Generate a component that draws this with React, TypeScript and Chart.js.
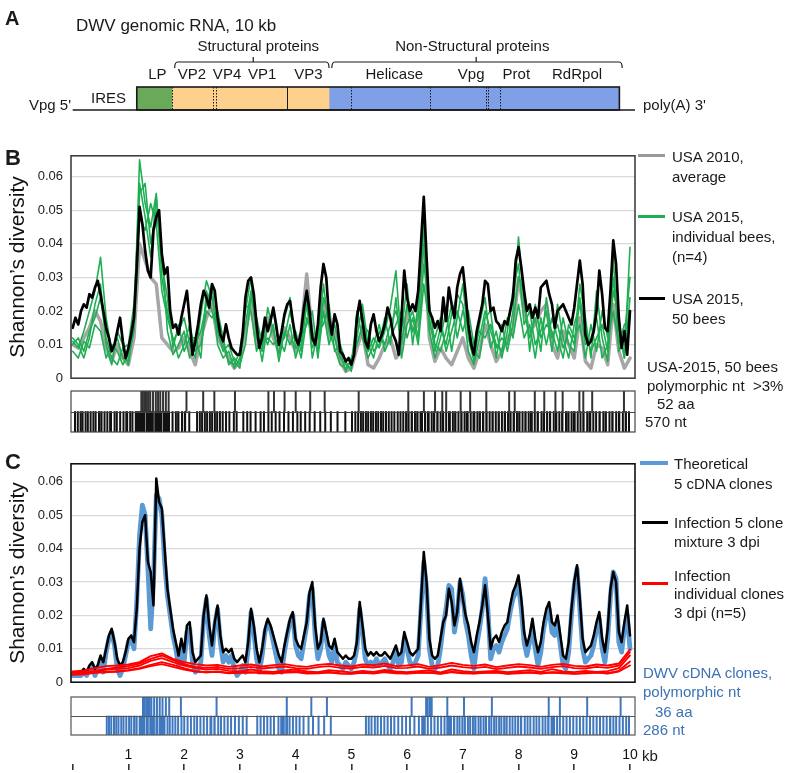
import React, { useEffect, useRef } from 'react';
import { Chart, registerables } from 'chart.js';
Chart.register(...registerables);

// ---------------- data ----------------
// genome position axis (kb)
const KB_MIN = -0.03;
const KB_MAX = 10.09;
const KB_TICK_STEP = 1;

// Panel A: genome organisation (kb)
const SEG_NAMES = ['LP', 'Structural', 'Non-Structural'];
const SEG_START = [1.15, 1.78, 4.6];
const SEG_END = [1.78, 4.6, 9.81];
const DIVIDER_KB = [1.78, 2.51, 2.58, 3.85, 4.99, 6.41, 7.42, 7.46, 7.66];
const DIVIDER_DOTTED = [true, true, true, false, true, true, true, true, true];
const GENE_NAMES = ['LP', 'VP2', 'VP4', 'VP1', 'VP3', 'Helicase', 'Vpg', 'Prot', 'RdRpol'];
const GENE_LABEL_KB = [1.52, 2.14, 2.77, 3.40, 4.23, 5.77, 7.15, 7.96, 9.05];
const BRACKET_NAMES = ['Structural proteins', 'Non-Structural proteins'];
const BRACKET_START = [1.83, 4.65];
const BRACKET_END = [4.6, 9.86];
const BRACKET_MID = [3.24, 7.24];
const BRACKET_LABEL_KB = [3.33, 7.17];

// Shannon's diversity, units of 1e-3
const STEP_FINE = 0.05;
const STEP_MID = 0.1;
const STEP_COARSE = 0.2;

const USA2015_50BEES = [
  15,18,16,20,22,21,25,24,27,29,25,20,15,12,8,10,14,18,11,6,
  9,13,18,33,51,46,38,32,30,44,48,50,37,31,33,20,15,16,13,18,
  22,26,17,7,11,16,22,26,24,21,28,26,18,13,11,16,12,9,8,7,
  7,13,24,29,30,25,16,9,12,18,14,17,21,16,10,14,19,22,23,17,
  12,10,14,21,26,20,12,10,16,27,34,30,18,13,19,16,8,7,5,6,
  4,7,18,23,17,11,9,16,19,14,11,13,16,21,18,13,11,7,18,32,
  24,20,22,20,26,40,54,36,20,18,15,17,14,24,17,27,22,18,27,31,
  33,25,16,10,7,14,18,22,29,28,20,21,17,16,14,17,16,20,24,35,
  39,33,26,20,22,18,21,18,27,28,29,25,22,15,20,21,22,20,18,16,
  21,28,35,28,13,10,11,14,20,32,25,15,14,26,41,34,18,9,14,7,
  20,
];
const USA2010_AVG = [
  10,9,12,15,20,17,9,5,10,6,
  4,12,40,35,30,28,12,10,8,9,
  12,8,4,12,18,22,12,9,6,3,
  5,14,22,10,9,18,12,8,15,12,
  8,14,31,12,10,22,12,14,5,2,
  3,9,14,4,3,6,10,12,6,8,
  20,14,16,44,12,5,9,6,4,8,
  12,6,3,8,16,10,5,8,12,14,
  30,20,14,16,20,22,10,6,14,10,
  6,18,5,3,10,9,4,22,8,3,
  6,
];
const USA2015_BEE1 = [
  11,9,14,20,26,36,18,8,12,6,
  5,15,65,52,45,55,30,20,11,14,
  18,10,6,19,29,24,15,10,5,4,
  8,20,30,12,8,21,14,7,18,24,
  9,10,22,9,12,28,14,9,4,3,
  5,16,19,8,12,9,14,21,32,10,
  22,14,18,46,18,8,15,10,19,25,
  22,8,4,12,20,14,9,12,10,20,
  42,22,12,18,8,24,12,16,9,14,
  10,28,18,6,26,12,5,30,14,6,
  39,
];
const USA2015_BEE2 = [
  10,12,8,14,18,24,12,6,4,9,
  10,22,55,58,40,50,38,14,7,10,
  14,6,10,14,22,28,10,6,8,3,
  6,16,26,14,5,16,20,10,12,20,
  12,6,18,14,8,24,18,12,6,4,
  3,12,22,10,6,14,10,16,20,14,
  28,10,22,40,14,6,12,20,8,18,
  28,12,5,16,24,9,14,6,14,26,
  34,16,20,10,14,20,8,22,12,6,
  16,22,10,12,18,6,10,36,8,12,
  30,
];
const USA2015_BEE3 = [
  8,6,11,9,16,14,6,10,8,4,
  7,14,48,44,52,46,26,18,12,6,
  10,16,8,10,20,18,20,12,4,6,
  4,10,24,18,10,12,10,12,8,16,
  6,12,16,20,6,20,10,16,8,2,
  6,10,16,14,8,10,18,10,24,6,
  16,20,12,34,22,10,8,14,22,12,
  20,16,8,6,18,20,6,16,8,16,
  30,26,8,22,12,16,14,8,18,10,
  8,24,14,8,12,16,8,26,18,6,
  24,
];
const USA2015_BEE4 = [
  12,10,6,12,22,28,10,4,14,10,
  4,18,58,48,36,54,34,24,9,16,
  8,12,12,6,26,20,14,8,10,5,
  3,22,20,8,14,10,16,5,14,10,
  14,8,24,6,14,16,22,8,10,5,
  2,20,12,6,10,16,8,12,16,20,
  12,18,10,28,16,12,18,8,14,20,
  14,20,10,14,12,16,10,8,18,12,
  22,12,16,6,18,10,18,12,6,16,
  12,16,6,16,8,20,12,20,10,16,
  18,
];

const THEORETICAL_5CLONES = [
  2,2,2,2,3,2,4,5,2,4,7,3,9,13,15,11,4,2,4,8,
  12,13,10,24,44,53,50,34,16,30,56,55,50,36,26,20,14,10,5,11,
  6,15,16,6,3,4,6,19,25,14,8,17,22,12,6,8,6,8,4,2,
  3,5,3,10,21,15,7,3,8,15,18,16,12,8,4,3,9,14,18,20,
  11,8,7,12,17,26,28,14,7,10,18,13,8,6,11,6,5,4,6,5,
  4,6,10,22,15,7,5,6,5,7,5,6,7,5,4,6,9,5,6,13,
  10,6,5,6,8,22,36,28,10,5,4,5,10,17,22,29,28,15,20,30,
  26,18,14,8,4,11,16,22,31,22,7,10,11,9,12,14,16,21,25,27,
  29,22,12,8,12,16,10,5,9,16,20,22,15,14,18,11,5,4,9,20,
  29,34,22,10,6,7,8,11,16,19,10,6,13,26,33,31,12,9,16,20,
  10,
];
const INFECTION_MIXTURE = [
  3,3,3,3,4,3,5,6,4,5,8,6,10,14,16,12,7,5,6,9,
  13,14,12,22,40,48,50,36,33,23,61,54,52,40,28,22,16,12,8,13,
  9,17,18,9,6,7,8,20,26,17,11,18,23,14,9,10,9,10,7,6,
  7,8,6,12,22,17,10,6,10,16,19,17,14,11,8,6,11,15,19,21,
  13,11,10,14,18,27,30,17,10,12,19,15,11,10,13,9,8,7,8,7,
  7,8,12,24,17,10,8,9,8,9,8,8,9,8,7,9,11,8,9,15,
  12,9,8,9,10,24,39,30,13,8,7,8,13,18,20,28,24,17,21,31,
  25,20,17,12,9,14,18,23,29,20,10,13,14,12,15,17,18,23,27,29,
  32,25,15,11,14,19,13,9,12,18,22,24,18,17,20,14,8,7,12,22,
  30,35,25,13,9,10,11,14,18,21,13,9,16,28,33,30,15,12,18,23,
  14,
];
const CLONE1 = [3.2,3.5,4.2,4.8,5.0,5.3,6.0,7.8,8.6,7.0,6.0,5.4,5.0,5.2,4.6,5.0,5.3,4.7,5.1,5.4,4.9,4.6,5.2,5.5,5.0,4.7,5.3,5.1,5.6,4.8,5.0,5.4,4.6,5.1,5.8,5.2,4.9,5.3,4.5,5.0,5.4,5.1,4.6,5.2,5.5,4.9,4.7,5.3,5.0,5.6,9.8];
const CLONE2 = [2.8,3.0,3.3,3.8,4.0,4.2,5.0,6.4,7.2,6.0,5.0,4.2,3.8,4.0,3.4,3.2,3.8,3.3,3.1,3.5,3.8,3.2,3.0,3.6,3.3,2.9,3.4,3.1,3.7,3.2,3.0,3.3,3.5,2.9,3.8,3.3,3.0,3.2,3.4,3.0,3.3,3.6,3.1,3.9,3.2,3.0,3.4,3.1,3.3,4.2,8.0];
const CLONE3 = [2.4,2.6,3.0,3.2,3.1,3.6,4.2,5.2,6.0,5.2,4.2,3.3,3.0,3.2,2.8,3.0,2.9,3.1,2.7,3.0,3.2,2.8,2.9,3.1,2.7,2.6,3.0,2.8,3.2,2.9,2.7,3.0,2.8,2.6,3.1,2.9,2.7,2.9,3.0,2.6,2.8,3.0,2.7,3.0,2.9,2.6,2.8,3.0,2.7,3.4,6.2];
const CLONE4 = [2.6,2.8,3.4,4.0,4.4,4.8,5.6,7.0,8.0,6.6,5.4,4.6,4.3,4.6,4.0,4.2,4.6,4.1,4.4,4.7,4.2,4.0,4.5,4.8,4.3,4.1,4.6,4.4,4.9,4.2,4.3,4.7,4.0,4.4,5.0,4.5,4.2,4.6,3.9,4.3,4.7,4.4,4.0,4.5,4.8,4.2,4.1,4.6,4.3,5.0,9.0];
const CLONE5 = [2.2,2.4,2.8,3.0,3.3,3.5,4.0,4.8,5.4,4.6,3.8,3.2,3.0,3.1,2.7,2.8,3.0,2.7,2.6,2.9,3.0,2.6,2.7,2.9,2.6,2.5,2.8,2.6,3.0,2.7,2.6,2.8,2.9,2.5,3.0,2.7,2.6,2.8,2.9,2.5,2.7,2.9,2.6,2.9,2.7,2.5,2.7,2.9,2.6,3.2,5.0];

// polymorphic sites (kb)
const MARK_W = 0.024;
const AA_B = [1.22,1.24,1.27,1.30,1.32,1.35,1.38,1.43,1.48,1.52,1.56,1.61,1.66,1.71,2.03,2.33,2.53,2.90,3.50,3.60,3.79,3.99,4.25,4.51,5.12,6.01,6.29,6.49,6.62,6.69,6.95,7.12,7.41,7.82,7.92,8.28,8.45,8.65,8.78,9.08,9.15,9.31,9.88];
const NT_B: [number, number][] = [
  [0.03,0.05],[0.08,0.10],[0.13,0.14],[0.16,0.19],[0.22,0.23],[0.26,0.28],[0.31,0.32],[0.36,0.37],[0.40,0.42],[0.46,0.47],[0.50,0.53],[0.56,0.57],[0.61,0.62],[0.66,0.70],[0.74,0.75],[0.78,0.80],[0.84,0.86],[0.90,0.91],[0.95,0.99],[1.02,1.03],[1.06,1.08],
  [1.12,1.30],[1.32,1.45],[1.47,1.60],[1.62,1.74],[1.78,1.80],[1.84,1.85],[1.88,1.91],[1.95,1.96],[2.00,2.03],[2.08,2.09],
  [2.22,2.24],[2.27,2.28],[2.31,2.33],[2.36,2.37],[2.40,2.42],[2.45,2.46],[2.49,2.51],[2.54,2.55],[2.58,2.60],[2.63,2.64],[2.68,2.70],[2.74,2.75],[2.80,2.82],[2.88,2.89],[2.93,2.94],
  [3.05,3.07],[3.12,3.13],[3.18,3.20],[3.27,3.28],[3.36,3.38],[3.42,3.43],[3.50,3.51],[3.56,3.58],[3.63,3.64],[3.70,3.71],[3.78,3.80],[3.86,3.87],[3.94,3.96],[4.02,4.03],[4.08,4.10],[4.16,4.17],[4.24,4.25],[4.33,4.35],[4.43,4.44],[4.52,4.53],[4.62,4.63],[4.74,4.75],[4.88,4.89],
  [5.00,5.01],[5.06,5.08],[5.11,5.13],[5.16,5.17],[5.20,5.22],[5.25,5.26],[5.29,5.31],[5.34,5.35],[5.38,5.40],[5.43,5.44],[5.47,5.49],[5.52,5.53],[5.56,5.58],[5.61,5.62],[5.66,5.68],[5.71,5.72],[5.76,5.78],[5.82,5.83],[5.87,5.88],[5.92,5.94],[5.97,5.98],
  [6.01,6.04],[6.07,6.10],[6.13,6.14],[6.17,6.20],[6.23,6.28],[6.31,6.33],[6.36,6.40],[6.43,6.44],[6.47,6.50],[6.53,6.56],[6.59,6.60],[6.63,6.66],[6.69,6.71],[6.74,6.78],[6.81,6.82],[6.85,6.88],[6.91,6.93],[6.96,6.99],
  [7.02,7.03],[7.06,7.10],[7.13,7.15],[7.18,7.22],[7.25,7.26],[7.29,7.32],[7.35,7.38],[7.41,7.44],[7.47,7.48],[7.52,7.55],[7.58,7.60],[7.63,7.66],[7.69,7.70],[7.74,7.77],[7.80,7.81],[7.84,7.87],[7.90,7.93],[7.96,7.97],
  [8.00,8.03],[8.06,8.08],[8.11,8.14],[8.17,8.18],[8.21,8.25],[8.28,8.30],[8.33,8.36],[8.40,8.41],[8.44,8.47],[8.50,8.52],[8.55,8.58],[8.62,8.63],[8.66,8.69],[8.72,8.74],[8.77,8.80],[8.84,8.85],[8.88,8.91],[8.94,8.95],[8.98,9.02],
  [9.05,9.06],[9.10,9.12],[9.15,9.18],[9.22,9.23],[9.26,9.30],[9.33,9.34],[9.38,9.40],[9.44,9.47],[9.51,9.52],[9.55,9.58],[9.62,9.63],[9.67,9.70],[9.74,9.75],[9.79,9.82],[9.86,9.87],[9.91,9.94],[9.97,9.98],
];
const AA_C = [1.25,1.28,1.31,1.34,1.37,1.40,1.45,1.50,1.55,1.60,1.66,1.72,1.93,2.57,3.83,4.27,4.55,6.07,6.33,6.36,6.40,6.43,6.71,7.01,7.51,8.53,8.73,9.22,9.82];
const NT_C: [number, number][] = [
  [0.60,0.61],[0.64,0.65],[0.68,0.70],[0.73,0.74],[0.77,0.78],[0.81,0.83],[0.86,0.87],[0.90,0.91],[0.95,0.97],[1.00,1.01],[1.04,1.06],[1.09,1.10],[1.13,1.16],[1.19,1.30],[1.32,1.36],[1.38,1.47],[1.49,1.53],[1.55,1.66],[1.69,1.70],[1.73,1.75],[1.78,1.79],[1.83,1.84],[1.88,1.90],[1.94,1.95],[1.99,2.00],
  [2.05,2.07],[2.11,2.12],[2.17,2.18],[2.22,2.24],[2.28,2.29],[2.34,2.35],[2.40,2.42],[2.46,2.50],[2.53,2.56],[2.60,2.61],[2.65,2.66],[2.71,2.72],[2.77,2.78],[2.83,2.84],[2.90,2.91],[2.97,2.98],[3.04,3.05],[3.11,3.12],
  [3.30,3.31],[3.36,3.38],[3.42,3.43],[3.48,3.49],[3.54,3.55],[3.60,3.61],[3.68,3.70],[3.73,3.80],[3.82,3.86],[3.88,3.90],[3.94,3.95],[4.00,4.01],[4.06,4.07],[4.13,4.14],[4.22,4.24],[4.30,4.31],[4.40,4.41],[4.50,4.51],[4.62,4.63],
  [5.25,5.26],[5.30,5.31],[5.35,5.37],[5.41,5.42],[5.46,5.47],[5.52,5.53],[5.58,5.59],[5.64,5.65],[5.70,5.71],[5.76,5.77],[5.83,5.84],[5.90,5.91],[5.97,5.98],[6.04,6.05],[6.12,6.13],[6.20,6.22],[6.26,6.33],[6.36,6.38],[6.42,6.43],[6.48,6.49],[6.54,6.55],[6.60,6.61],[6.66,6.68],[6.71,6.80],[6.83,6.86],[6.89,6.90],[6.93,6.95],[6.98,6.99],
  [7.02,7.05],[7.08,7.09],[7.12,7.14],[7.17,7.18],[7.21,7.24],[7.27,7.28],[7.31,7.33],[7.36,7.37],[7.40,7.43],[7.46,7.47],[7.50,7.52],[7.55,7.56],[7.59,7.61],[7.64,7.65],[7.68,7.70],[7.73,7.74],[7.77,7.80],[7.83,7.84],[7.88,7.89],[7.93,7.95],[7.98,7.99],
  [8.03,8.06],[8.10,8.11],[8.15,8.16],[8.20,8.22],[8.26,8.27],[8.31,8.32],[8.36,8.38],[8.42,8.43],[8.47,8.48],[8.52,8.55],[8.58,8.65],[8.68,8.69],[8.73,8.75],[8.79,8.80],[8.85,8.86],[8.91,8.93],[8.97,8.98],
  [9.03,9.04],[9.09,9.10],[9.15,9.17],[9.21,9.22],[9.27,9.28],[9.33,9.35],[9.39,9.40],[9.45,9.46],[9.51,9.53],[9.57,9.58],[9.63,9.66],[9.69,9.70],[9.74,9.75],[9.80,9.82],[9.86,9.87],[9.92,9.93],[9.97,9.98],
];

// ---------------- style ----------------
const FONT = '"Liberation Sans", Arial, Helvetica, sans-serif';
const W = 790;
const PLOT_LEFT = 71;
const PLOT_RIGHT_PAD = 155;
const C_GRAY = '#a6a6a6';
const C_GREEN = '#1fae52';
const C_BLACK = '#000000';
const C_BLUE = '#5b9bd5';
const C_RED = '#ff0000';
const C_TEXT = '#1a1a1a';
const C_BARBLUE = '#3f78bf';

const toPoints = (vals: number[], step: number) =>
  vals.map((v, i) => ({ x: Math.round(i * step * 100) / 100, y: v / 1000 }));

const baseOptions = {
  animation: false,
  responsive: false,
  maintainAspectRatio: false,
  events: [],
  plugins: { legend: { display: false }, tooltip: { enabled: false }, title: { display: false } },
};

const framePlugin = (color: string, lw: number, midLine = false) => ({
  id: 'frame',
  afterDatasetsDraw(chart: any) {
    const { ctx, chartArea: a } = chart;
    ctx.save();
    ctx.strokeStyle = color;
    ctx.lineWidth = lw;
    ctx.strokeRect(a.left, a.top, a.right - a.left, a.bottom - a.top);
    if (midLine) {
      const m = Math.round((a.top + a.bottom) / 2) + 0.5;
      ctx.lineWidth = 1;
      ctx.beginPath();
      ctx.moveTo(a.left, m);
      ctx.lineTo(a.right, m);
      ctx.stroke();
    }
    ctx.restore();
  },
});

function lineConfig(datasets: any[], yMax: number, padTop: number, padBottom: number, frameColor: string) {
  return {
    type: 'line',
    data: { datasets },
    options: {
      ...baseOptions,
      layout: { padding: { top: padTop, bottom: padBottom, left: 0, right: PLOT_RIGHT_PAD } },
      elements: {
        point: { radius: 0 },
        line: { tension: 0, borderJoinStyle: 'round', borderCapStyle: 'round' },
      },
      scales: {
        x: { type: 'linear', display: false, min: KB_MIN, max: KB_MAX },
        y: {
          type: 'linear',
          min: 0,
          max: yMax,
          afterFit: (s: any) => { s.width = PLOT_LEFT; },
          ticks: {
            stepSize: 0.01,
            includeBounds: false,
            padding: 8,
            color: '#222',
            font: { family: FONT, size: 13 },
            callback: (v: any) => (Number(v) === 0 ? '0' : Number(v).toFixed(2)),
          },
          grid: {
            drawTicks: false,
            lineWidth: 1.2,
            color: (c: any) => (c.tick && c.tick.value === 0 ? 'rgba(0,0,0,0)' : '#d9d9d9'),
          },
          border: { display: false },
          title: {
            display: true,
            text: 'Shannon\u2019s diversity',
            color: '#111',
            font: { family: FONT, size: 21 },
            padding: { top: 6, bottom: 0 },
          },
        },
      },
    },
    plugins: [framePlugin(frameColor, 1.6)],
  };
}

function panelBConfig() {
  const datasets = [
    { label: 'USA 2015, 50 bees', data: toPoints(USA2015_50BEES, STEP_FINE), borderColor: C_BLACK, borderWidth: 2.7, order: 0 },
    { label: 'bee 1', data: toPoints(USA2015_BEE1, STEP_MID), borderColor: C_GREEN, borderWidth: 1.6, order: 1 },
    { label: 'bee 2', data: toPoints(USA2015_BEE2, STEP_MID), borderColor: C_GREEN, borderWidth: 1.6, order: 1 },
    { label: 'bee 3', data: toPoints(USA2015_BEE3, STEP_MID), borderColor: C_GREEN, borderWidth: 1.6, order: 1 },
    { label: 'bee 4', data: toPoints(USA2015_BEE4, STEP_MID), borderColor: C_GREEN, borderWidth: 1.6, order: 1 },
    { label: 'USA 2010, average', data: toPoints(USA2010_AVG, STEP_MID), borderColor: C_GRAY, borderWidth: 3.5, order: 2 },
  ];
  return lineConfig(datasets, 0.0662, 11, 10, '#404040');
}

function panelCConfig() {
  const clones = [CLONE1, CLONE2, CLONE3, CLONE4, CLONE5];
  const datasets = [
    ...clones.map((c, i) => ({ label: 'clone ' + (i + 1), data: toPoints(c, STEP_COARSE), borderColor: C_RED, borderWidth: 1.9, order: 0 })),
    { label: 'Infection 5 clone mixture', data: toPoints(INFECTION_MIXTURE, STEP_FINE), borderColor: C_BLACK, borderWidth: 2.5, order: 1 },
    { label: 'Theoretical', data: toPoints(THEORETICAL_5CLONES, STEP_FINE), borderColor: C_BLUE, borderWidth: 4.8, order: 2 },
  ];
  return lineConfig(datasets, 0.0654, 11, 10, '#111111');
}

function barcodeConfig(aa: number[], nt: [number, number][], aaColor: string, ntColor: string, frameColor: string) {
  return {
    type: 'bar',
    data: {
      labels: ['aa', 'nt'],
      datasets: [
        { label: 'aa', data: aa.map((p) => ({ y: 'aa', x: [p, p + MARK_W] })), backgroundColor: aaColor },
        { label: 'nt', data: nt.map(([s, e]) => ({ y: 'nt', x: [s, Math.max(e, s + MARK_W)] })), backgroundColor: ntColor },
      ],
    },
    options: {
      ...baseOptions,
      indexAxis: 'y',
      layout: { padding: { top: 1, bottom: 1, left: PLOT_LEFT, right: PLOT_RIGHT_PAD } },
      datasets: { bar: { barPercentage: 1, categoryPercentage: 1, grouped: false, borderWidth: 0 } },
      scales: {
        x: { type: 'linear', display: false, min: KB_MIN, max: KB_MAX },
        y: { type: 'category', display: false },
      },
    },
    plugins: [framePlugin(frameColor, 1.2, true)],
  };
}

const genomePlugin = {
  id: 'genome',
  afterDatasetsDraw(chart: any) {
    const { ctx, chartArea: a, scales } = chart;
    const px = (k: number) => scales.x.getPixelForValue(k);
    ctx.save();
    ctx.strokeStyle = '#1a1a1a';
    ctx.lineWidth = 1.6;
    ctx.beginPath();
    ctx.moveTo(px(0), a.bottom);
    ctx.lineTo(a.right, a.bottom);
    ctx.stroke();
    DIVIDER_KB.forEach((k, i) => {
      ctx.lineWidth = 1;
      ctx.setLineDash(DIVIDER_DOTTED[i] ? [1.5, 1.5] : []);
      const xx = Math.round(px(k)) + 0.5;
      ctx.beginPath();
      ctx.moveTo(xx, a.top);
      ctx.lineTo(xx, a.bottom);
      ctx.stroke();
    });
    ctx.setLineDash([]);
    const l = px(SEG_START[0]);
    const r = px(SEG_END[SEG_END.length - 1]);
    ctx.lineWidth = 1.6;
    ctx.strokeRect(l, a.top, r - l, a.bottom - a.top);
    ctx.fillStyle = C_TEXT;
    ctx.textAlign = 'center';
    ctx.textBaseline = 'middle';
    ctx.font = `15px ${FONT}`;
    GENE_NAMES.forEach((n, i) => ctx.fillText(n, px(GENE_LABEL_KB[i]), a.top - 12));
    ctx.lineWidth = 1.2;
    BRACKET_NAMES.forEach((n, i) => {
      const y0 = a.top - 25;
      const s = px(BRACKET_START[i]);
      const e = px(BRACKET_END[i]);
      const m = px(BRACKET_MID[i]);
      ctx.beginPath();
      ctx.moveTo(s, y0 + 6);
      ctx.quadraticCurveTo(s, y0, s + 3, y0);
      ctx.lineTo(e - 3, y0);
      ctx.quadraticCurveTo(e, y0, e, y0 + 6);
      ctx.moveTo(m, y0);
      ctx.lineTo(m, y0 - 5);
      ctx.stroke();
      ctx.fillText(n, px(BRACKET_LABEL_KB[i]), a.top - 40);
    });
    ctx.restore();
  },
};

function genomeConfig() {
  const colors = ['#6aa85a', '#fdd08e', '#7f9fe6'];
  return {
    type: 'bar',
    data: {
      labels: ['genome'],
      datasets: SEG_NAMES.map((n, i) => ({
        label: n,
        data: [{ y: 'genome', x: [SEG_START[i], SEG_END[i]] }],
        backgroundColor: colors[i],
      })),
    },
    options: {
      ...baseOptions,
      indexAxis: 'y',
      layout: { padding: { top: 87, bottom: 10, left: PLOT_LEFT, right: PLOT_RIGHT_PAD } },
      datasets: { bar: { barPercentage: 1, categoryPercentage: 1, grouped: false, borderWidth: 0 } },
      scales: {
        x: { type: 'linear', display: false, min: KB_MIN, max: KB_MAX },
        y: { type: 'category', display: false },
      },
    },
    plugins: [genomePlugin],
  };
}

function axisConfig() {
  return {
    type: 'line',
    data: { datasets: [] },
    options: {
      ...baseOptions,
      layout: { padding: { top: 9, bottom: 3, left: PLOT_LEFT, right: PLOT_RIGHT_PAD } },
      scales: {
        x: {
          type: 'linear',
          position: 'top',
          min: KB_MIN,
          max: KB_MAX,
          afterFit: (s: any) => { s.height = 20; },
          ticks: {
            stepSize: KB_TICK_STEP,
            includeBounds: false,
            padding: 0,
            maxRotation: 0,
            autoSkip: false,
            color: '#111',
            font: { family: FONT, size: 14 },
            callback: (v: any) => (Number(v) === 0 ? '' : String(v)),
          },
          grid: { drawTicks: false, color: '#333', lineWidth: 1.6 },
          border: { display: false },
        },
        y: { display: false, min: 0, max: 1 },
      },
    },
  };
}

// ---------------- components ----------------
function ChartBox({ top, height, make }: { top: number; height: number; make: () => any }) {
  const ref = useRef<HTMLCanvasElement>(null);
  useEffect(() => {
    const chart = new Chart(ref.current as HTMLCanvasElement, make() as any);
    return () => chart.destroy();
  }, []);
  return (
    <canvas
      ref={ref}
      width={W}
      height={height}
      style={{ position: 'absolute', left: 0, top, width: W, height }}
    />
  );
}

function Txt({ x, y, children, size = 15, bold = false, color = C_TEXT }: any) {
  return (
    <div
      style={{
        position: 'absolute',
        left: x,
        top: y,
        transform: 'translateY(-50%)',
        fontFamily: FONT,
        fontSize: size,
        fontWeight: bold ? 700 : 400,
        color,
        lineHeight: 1,
        whiteSpace: 'pre',
      }}
    >
      {children}
    </div>
  );
}

function Swatch({ x, y, w, lw, color }: any) {
  return <div style={{ position: 'absolute', left: x, top: y - lw / 2, width: w, height: lw, background: color }} />;
}

export default function App() {
  return (
    <div style={{ position: 'fixed', left: 0, top: 0, width: W, height: 773, background: '#fff', overflow: 'hidden' }}>
      <ChartBox top={0} height={120} make={genomeConfig} />
      <ChartBox top={140} height={254} make={panelBConfig} />
      <ChartBox top={390} height={43} make={() => barcodeConfig(AA_B, NT_B, '#333', '#111', '#444')} />
      <ChartBox top={448} height={250} make={panelCConfig} />
      <ChartBox top={696} height={40} make={() => barcodeConfig(AA_C, NT_C, C_BARBLUE, C_BARBLUE, '#555')} />
      <ChartBox top={735} height={38} make={axisConfig} />

      {/* Panel A text */}
      <Txt x={5} y={18} size={20} bold>A</Txt>
      <Txt x={76} y={25} size={17}>DWV genomic RNA, 10 kb</Txt>
      <Txt x={29} y={104}>Vpg 5'</Txt>
      <Txt x={91} y={97}>IRES</Txt>
      <Txt x={643} y={104}>poly(A) 3'</Txt>

      {/* Panel B */}
      <Txt x={5} y={158} size={22} bold>B</Txt>
      <Swatch x={638} y={155} w={27} lw={3} color="#999" />
      <Txt x={672} y={156}>USA 2010,</Txt>
      <Txt x={672} y={176}>average</Txt>
      <Swatch x={638} y={216} w={27} lw={3} color={C_GREEN} />
      <Txt x={672} y={216}>USA 2015,</Txt>
      <Txt x={672} y={236}>individual bees,</Txt>
      <Txt x={672} y={256}>(n=4)</Txt>
      <Swatch x={639} y={298} w={26} lw={3} color={C_BLACK} />
      <Txt x={672} y={298}>USA 2015,</Txt>
      <Txt x={672} y={318}>50 bees</Txt>
      <Txt x={647} y={366}>USA-2015, 50 bees</Txt>
      <Txt x={647} y={385}>polymorphic nt  &gt;3%</Txt>
      <Txt x={657} y={403}>52 aa</Txt>
      <Txt x={645} y={421}>570 nt</Txt>

      {/* Panel C */}
      <Txt x={5} y={462} size={22} bold>C</Txt>
      <Swatch x={640} y={463} w={28} lw={4} color={C_BLUE} />
      <Txt x={674} y={463}>Theoretical</Txt>
      <Txt x={674} y={483}>5 cDNA clones</Txt>
      <Swatch x={642} y={522} w={26} lw={3} color={C_BLACK} />
      <Txt x={674} y={522}>Infection 5 clone</Txt>
      <Txt x={674} y={541}>mixture 3 dpi</Txt>
      <Swatch x={642} y={583} w={26} lw={3} color={C_RED} />
      <Txt x={674} y={575}>Infection</Txt>
      <Txt x={674} y={593}>individual clones</Txt>
      <Txt x={674} y={612}>3 dpi (n=5)</Txt>
      <Txt x={643} y={672} color="#3d72b5">DWV cDNA clones,</Txt>
      <Txt x={643} y={691} color="#3d72b5">polymorphic nt</Txt>
      <Txt x={655} y={711} color="#3d72b5">36 aa</Txt>
      <Txt x={643} y={729} color="#3d72b5">286 nt</Txt>

      <Txt x={642} y={755} size={15}>kb</Txt>
    </div>
  );
}
